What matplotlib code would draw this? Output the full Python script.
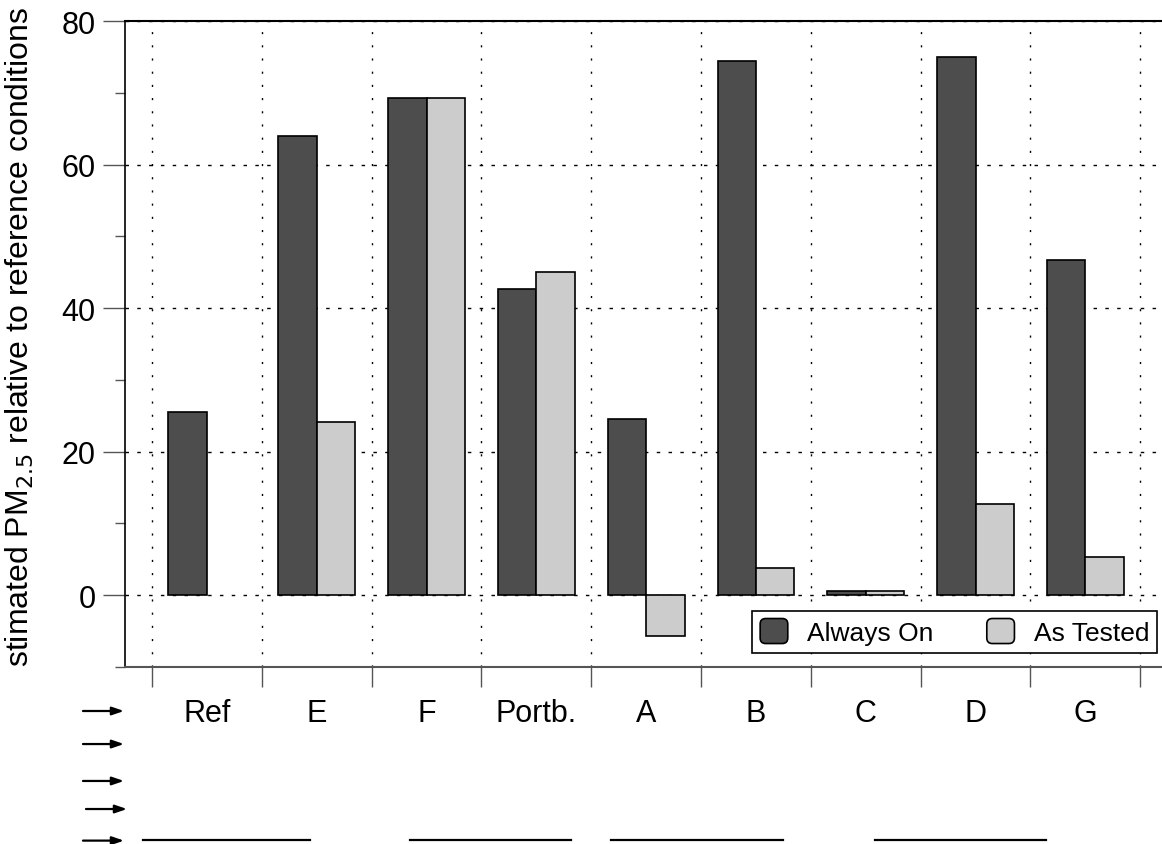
import numpy as np
import matplotlib
matplotlib.use("Agg")
import matplotlib.pyplot as plt
import matplotlib.transforms as mtransforms
from matplotlib.patches import FancyArrowPatch, FancyBboxPatch, Patch
from matplotlib.lines import Line2D
from matplotlib.legend_handler import HandlerPatch

plt.rcParams['font.family'] = ['Liberation Sans', 'DejaVu Sans']

categories = ['Ref', 'E', 'F', 'Portb.', 'A', 'B', 'C', 'D', 'G']
always_on = [25.5, 64.0, 69.3, 42.6, 24.5, 74.4, 0.6, 75.0, 46.7]
as_tested = [np.nan, 24.1, 69.3, 45.1, -5.7, 3.8, 0.6, 12.7, 5.3]

# underline spans below the groups (x in group units)
spans = [(-0.08, 1.44), (2.35, 3.82), (4.18, 5.75), (6.58, 8.14)]
# arrow rows in the lower margin (figure fraction)
arrow_rows = [(0.0714, 0.1067, 0.1574), (0.0714, 0.1067, 0.1183),
              (0.0714, 0.1067, 0.0746), (0.0740, 0.1093, 0.0414),
              (0.0714, 0.1067, 0.0040)]

dark = '#4d4d4d'
light = '#cccccc'


def rounded_handle(legend, orig_handle, xdescent, ydescent, width, height,
                   fontsize):
    # legend key drawn as a small rounded square
    return FancyBboxPatch((-xdescent + 2, -ydescent + 1), width - 4, height - 2,
                          boxstyle='round,pad=1.5,rounding_size=4')


fig = plt.figure(figsize=(11.62, 8.45), dpi=100)
ax = fig.add_axes([125 / 1162, 177 / 845, 1037 / 1162, 646 / 845])

x = np.arange(len(categories)) + 0.5
w = 0.35
ax.bar(x - w / 2, always_on, w, color=dark, edgecolor='black', linewidth=1.2,
       zorder=2)
ax.bar(x + w / 2, as_tested, w, color=light, edgecolor='black', linewidth=1.2,
       zorder=2)

ax.set_xlim(-0.246, 9.198)
ax.set_ylim(-10, 80)

# group boundaries as major x ticks, names as minor ticks
ax.set_xticks(np.arange(len(categories) + 1))
ax.set_xticklabels([])
ax.set_xticks(x, minor=True)
ax.set_xticklabels(categories, minor=True, fontsize=22)
ax.tick_params(axis='x', which='major', direction='out', length=14.5,
               width=1.0, color='#555555')
ax.tick_params(axis='x', which='minor', length=0, pad=22)

ax.set_yticks([0, 20, 40, 60, 80])
ax.set_yticks([-10, 10, 30, 50, 70], minor=True)
ax.tick_params(axis='y', which='major', length=16, width=1.0, color='#555555',
               labelsize=22, pad=5)
ax.tick_params(axis='y', which='minor', length=7.5, width=1.0, color='#555555')

ax.set_axisbelow(True)
ax.grid(True, axis='x', which='major', color='black', linestyle=(0, (1.5, 8)),
        linewidth=1.0)
ax.grid(True, axis='y', which='major', color='black', linestyle=(0, (2.5, 6)),
        linewidth=1.0)

ax.spines['right'].set_visible(False)
ax.spines['top'].set_linewidth(1.5)
ax.spines['left'].set_linewidth(1.2)
ax.spines['bottom'].set_color('#555555')
ax.spines['bottom'].set_linewidth(1.5)

ax.set_ylabel('stimated PM$_{2.5}$ relative to reference conditions',
              fontsize=23)
ax.yaxis.set_label_coords(-0.086, 0.512)

handles = [Patch(facecolor=dark, edgecolor='black', linewidth=1.2),
           Patch(facecolor=light, edgecolor='black', linewidth=1.2)]
leg = ax.legend(handles, ['Always On', 'As Tested'], loc='lower right',
                bbox_to_anchor=(0.9952, 0.0217), ncol=2, borderaxespad=0,
                fontsize=19, fancybox=False, framealpha=1, edgecolor='black',
                handlelength=1.1, handleheight=1.0, columnspacing=2.0,
                handletextpad=0.7, borderpad=0.3,
                handler_map={Patch: HandlerPatch(patch_func=rounded_handle)})
leg.get_frame().set_linewidth(1.2)

# underlines below the groups
trans = mtransforms.blended_transform_factory(ax.transData, fig.transFigure)
for x0, x1 in spans:
    fig.add_artist(Line2D([x0, x1], [0.0045, 0.0045], transform=trans,
                          color='black', linewidth=1.6))

for x0, x1, y in arrow_rows:
    fig.add_artist(FancyArrowPatch((x0, y), (x1, y), transform=fig.transFigure,
                                   arrowstyle='-|>,head_length=7,head_width=2.4',
                                   color='black', linewidth=1.6,
                                   shrinkA=0, shrinkB=0))

fig.savefig('out.png', dpi=100)
